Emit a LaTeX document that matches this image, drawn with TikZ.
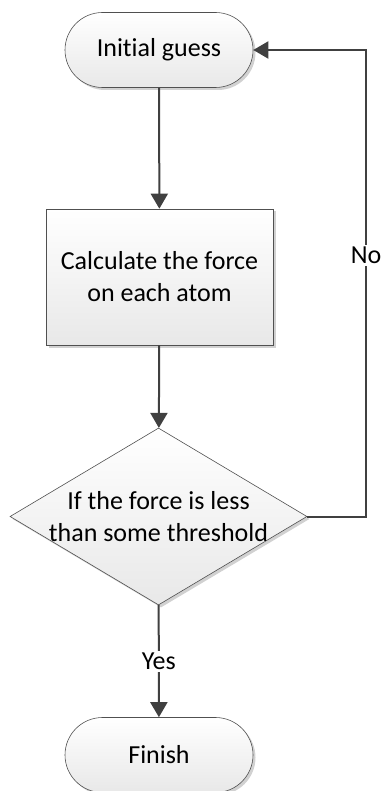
\documentclass[tikz,border=0pt]{standalone}
\usepackage{fontspec}
\setmainfont[Ligatures={NoCommon}]{Carlito}
\usetikzlibrary{shapes.geometric,shapes.misc,shadows,arrows.meta}
\definecolor{lineC}{HTML}{404040}
\definecolor{edgeC}{HTML}{505050}
\tikzset{
  shp/.style={draw=edgeC, line width=0.6pt, top color=white, bottom color=black!9,
    drop shadow={shadow xshift=2.5pt, shadow yshift=-2.5pt, fill=black!18, opacity=1},
    font=\fontsize{26}{32}\selectfont, align=center, inner sep=0pt},
  term/.style={shp, rounded rectangle, minimum width=188pt, minimum height=75pt},
  proc/.style={shp, rectangle, minimum width=227pt, minimum height=136pt},
  dec/.style={shp, diamond, minimum width=297pt, minimum height=177pt},
  dectext/.style={font=\fontsize{26}{32}\selectfont, align=center, inner sep=0pt},
  conn/.style={draw=lineC, line width=2pt, -{Triangle[length=15pt,width=17pt]}},
  lbl/.style={fill=white, font=\fontsize{26}{30}\selectfont, inner sep=2pt}
}
\begin{document}
\begin{tikzpicture}[x=1pt,y=1pt]
\useasboundingbox (0,0) rectangle (381,-791);
\node[term] (init) at (159,-50) {Initial guess};
\node[proc] (calc) at (159.5,-277) {Calculate the force\\on each atom};
\node[dec] (test) at (158.5,-516.5) {};
\node[dectext] (testtxt) at (test.center) {If the force is less\\than some threshold};
\node[term] (fin) at (159,-755) {Finish};
\coordinate (c1) at (366,-516.5);
\coordinate (c2) at (366,-50);
\draw[conn] (init) -- (calc);
\draw[conn] (calc) -- (test);
\draw[conn] (test) -- node[lbl] {Yes} (fin);
\draw[conn] (test.east) -- (c1) -- node[lbl,pos=0.56] {No} (c2) -- (init.east);
\end{tikzpicture}
\end{document}
